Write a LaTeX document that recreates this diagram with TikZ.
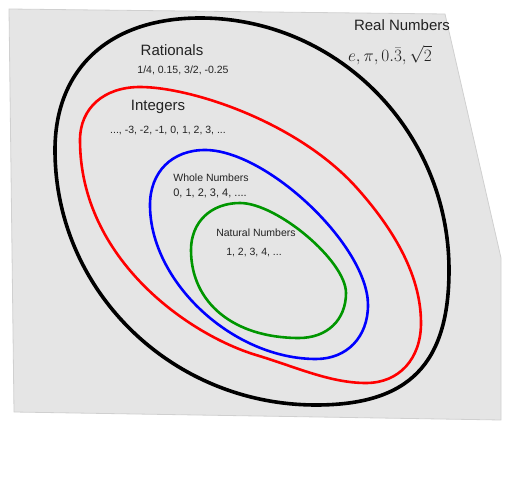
\documentclass[tikz,border=0pt]{standalone}
\usepackage{amsmath}
\usepackage{fontspec}
\setmainfont{Liberation Sans}
\usepackage{tikz}

\definecolor{fundo}{RGB}{229,229,229}
\definecolor{borda}{RGB}{208,208,208}
\definecolor{verde}{RGB}{0,150,0}
\definecolor{texto}{RGB}{34,34,34}

\tikzset{
    conjunto/.style={line width=2.6pt},
    titulo/.style={text=texto, font=\fontsize{15}{18}\selectfont, inner sep=0pt},
    exemplo/.style={text=texto, font=\fontsize{10.5}{12}\selectfont, inner sep=0pt}
}

\begin{document}
\begin{tikzpicture}[x=1pt, y=-1pt]
    \useasboundingbox (0,0) rectangle (512,481);

    % folha de fundo
    \draw[fill=fundo, draw=borda, line width=0.8pt]
        (9,9) -- (445,14) -- (501,258) -- (501,420) -- (14,412) -- cycle;

    \draw[conjunto, line width=3.6pt, black] (55,150)
        .. controls (55,68) and (110,18) .. (200,18)
        .. controls (337,18) and (449,131) .. (449,270)
        .. controls (449,364) and (409,405) .. (316,405)
        .. controls (172,405) and (55,291) .. cycle;
    \draw[conjunto, red] (80,140)
        .. controls (80,108) and (104,87) .. (140,87)
        .. controls (190,87) and (296,121) .. (356,187)
        .. controls (391,226) and (421,273) .. (421,323)
        .. controls (421,359) and (399,383) .. (366,383)
        .. controls (330,383) and (296,367) .. (256,355)
        .. controls (190,335) and (80,260) .. cycle;
    \draw[conjunto, blue] (150,205)
        .. controls (150,172) and (172,150) .. (205,150)
        .. controls (267,150) and (368,246) .. (368,305)
        .. controls (368,337) and (347,359) .. (316,359)
        .. controls (233,359) and (150,282) .. cycle;
    \draw[conjunto, verde] (191,250)
        .. controls (191,222) and (211,203) .. (240,203)
        .. controls (277,203) and (346,261) .. (346,293)
        .. controls (346,320) and (327,338) .. (299,338)
        .. controls (234,338) and (191,303) .. cycle;

    \node[titulo] (reais) at (402,25) {Real Numbers};
    \node[text=texto, inner sep=0pt] (reaisex) at (390,55)
        {\fontsize{18}{20}\selectfont $e, \pi, 0.\bar{3}, \sqrt{2}$};

    \node[titulo] (racionais) at (172,50) {Rationals};
    \node[exemplo] (racionaisex) at (183,70) {1/4, 0.15, 3/2, -0.25};

    \node[titulo] (inteiros) at (158,107) {Integers};
    \node[exemplo] (inteirosex) at (168,131) {..., -3, -2, -1, 0, 1, 2, 3, ...};

    \node[exemplo] (inteiros0) at (211,178) {Whole Numbers};
    \node[exemplo, font=\fontsize{11}{13}\selectfont] (inteiros0ex) at (210,193) {0, 1, 2, 3, 4, ....};

    \node[exemplo] (naturais) at (256,233) {Natural Numbers};
    \node[exemplo] (naturaisex) at (254,253) {1, 2, 3, 4, ...};

\end{tikzpicture}
\end{document}
